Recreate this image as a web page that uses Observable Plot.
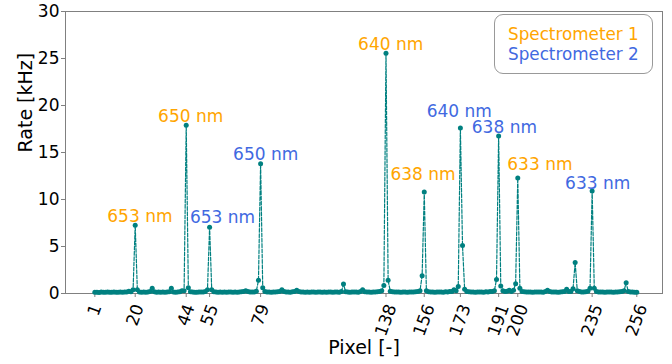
<!DOCTYPE html>
<html>
<head>
<meta charset="utf-8">
<script src="https://cdn.jsdelivr.net/npm/d3@7"></script>
<script src="https://cdn.jsdelivr.net/npm/@observablehq/plot@0.6"></script>
<style>
  html, body { margin: 0; padding: 0; background: white; }
  #wrap { position: relative; width: 672px; height: 364px; font-family: "DejaVu Sans", sans-serif; }
  #legend {
    position: absolute; left: 494px; top: 14px; width: 157px; height: 58px;
    border: 1px solid #999; border-radius: 9px; background: white;
    font-size: 16.8px; line-height: 20px; box-sizing: content-box;
  }
  #legend div { position: absolute; left: 13px; white-space: nowrap; }
</style>
</head>
<body>
<div id="wrap">
  <div id="legend">
    <div id="l1" style="top:9px;color:#FFA500">Spectrometer 1</div>
    <div id="l2" style="top:29px;color:#4169E1">Spectrometer 2</div>
  </div>
</div>
<script>
const rates = [
  0.12,0.14,0.11,0.15,0.13,0.12,0.16,0.14,0.13,0.15,0.12,0.14,0.17,0.13,0.15,0.16,
  0.25,0.18,0.4,7.25,0.4,0.17,0.14,0.15,0.13,0.16,0.2,0.57,0.18,0.14,0.15,0.13,
  0.16,0.14,0.15,0.19,0.57,0.17,0.14,0.16,0.18,0.3,0.3,17.9,0.6,0.18,0.15,0.14,
  0.13,0.16,0.15,0.17,0.2,0.4,7.05,0.4,0.18,0.15,0.14,0.16,0.13,0.15,0.14,0.17,
  0.15,0.13,0.16,0.14,0.15,0.18,0.2,0.3,0.22,0.16,0.15,0.17,0.25,1.4,13.8,0.6,
  0.2,0.16,0.15,0.14,0.17,0.15,0.18,0.22,0.4,0.2,0.16,0.15,0.14,0.18,0.22,0.35,
  0.2,0.16,0.15,0.14,0.16,0.13,0.15,0.17,0.14,0.16,0.15,0.13,0.16,0.14,0.17,0.15,
  0.14,0.16,0.15,0.13,0.2,1.0,0.18,0.15,0.14,0.16,0.15,0.17,0.14,0.2,0.4,0.18,
  0.15,0.16,0.14,0.17,0.15,0.18,0.2,0.3,0.85,25.55,1.4,0.25,0.18,0.16,0.15,0.17,
  0.14,0.16,0.15,0.13,0.16,0.15,0.17,0.18,0.2,0.3,1.9,10.8,0.3,0.18,0.16,0.15,
  0.14,0.17,0.15,0.16,0.14,0.18,0.15,0.2,0.22,0.4,0.3,0.75,17.6,5.1,0.45,0.22,
  0.18,0.16,0.15,0.14,0.17,0.15,0.16,0.14,0.18,0.17,0.2,0.22,0.3,1.5,16.75,0.8,
  0.3,0.2,0.25,0.35,0.2,0.35,1.05,12.3,0.55,0.22,0.18,0.16,0.15,0.17,0.14,0.16,
  0.15,0.17,0.16,0.14,0.2,0.35,0.2,0.16,0.15,0.17,0.14,0.16,0.18,0.2,0.45,0.2,
  0.22,0.5,3.3,0.3,0.2,0.17,0.16,0.18,0.25,0.55,10.9,0.55,0.2,0.16,0.15,0.17,
  0.14,0.16,0.15,0.17,0.14,0.16,0.15,0.18,0.2,0.3,1.15,0.2,0.16,0.15,0.14,0.13
];
const pixels = rates.map((_, i) => i + 1);

const xTicks = [1, 20, 44, 55, 79, 138, 156, 173, 191, 200, 235, 256];
const yTicks = [0, 5, 10, 15, 20, 25, 30];

const labelText = ["653 nm","650 nm","653 nm","650 nm","640 nm","638 nm","640 nm","638 nm","633 nm","633 nm"];
const labelSpectrometer = [1, 1, 2, 2, 1, 1, 2, 2, 1, 2];
const labelPixel = [22.2, 46.1, 61.1, 81.4, 140.2, 155.4, 172.5, 193.7, 210.4, 237.6];
const labelRate = [7.6, 18.26, 7.5, 14.18, 25.9, 12.05, 18.76, 17.06, 13.1, 11.1];

const series = pixels.map((p, i) => ({pixel: p, rate: rates[i]}));
const labels = labelText.map((t, i) => ({text: t, pixel: labelPixel[i], rate: labelRate[i], spec: labelSpectrometer[i]}));
const specColor = {1: "#FFA500", 2: "#4169E1"};

const teal = "#008080";
const sin = Math.sin(70 * Math.PI / 180), cos = Math.cos(70 * Math.PI / 180);
const fs = 17;
const halfH = n => (n * 0.636 * fs * sin + 1.164 * fs * cos) / 2;

const tickLabelMarks = [1, 2, 3].map(n =>
  Plot.text(xTicks.filter(t => String(t).length === n), {
    x: d => d, frameAnchor: "bottom", text: d => String(d),
    rotate: -70, textAnchor: "middle", lineAnchor: "middle",
    dy: 8 + halfH(n), fontSize: fs, fill: "black"
  })
);

const chart = Plot.plot({
  width: 672, height: 364,
  marginLeft: 65, marginRight: 10, marginTop: 11, marginBottom: 71,
  style: {fontFamily: "DejaVu Sans", background: "white", overflow: "visible"},
  x: {domain: [-12.8, 268.1], axis: null},
  y: {domain: [0, 30], axis: null},
  marks: [
    Plot.frame({stroke: "#808080", strokeWidth: 1}),
    Plot.axisY({ticks: yTicks, tickSize: 4, tickPadding: 2, fontSize: fs, label: null, stroke: "#808080", color: "black"}),
    Plot.axisX({ticks: xTicks, tickSize: 4, tickFormat: () => "", label: null, stroke: "#808080"}),
    ...tickLabelMarks,
    Plot.line(series, {x: "pixel", y: "rate", stroke: teal, strokeWidth: 1.2, strokeDasharray: "3.7,1.6"}),
    Plot.dot(series, {x: "pixel", y: "rate", r: 2.5, fill: teal, stroke: "none"}),
    Plot.text(labels, {x: "pixel", y: "rate", text: "text", fill: d => specColor[d.spec], fontSize: 17, textAnchor: "middle", lineAnchor: "bottom"}),
    Plot.text(["Rate [kHz]"], {text: d => d, frameAnchor: "left", dx: -40, rotate: -90, fontSize: 19, fill: "black"}),
    Plot.text(["Pixel [-]"], {text: d => d, frameAnchor: "bottom", dy: 60, fontSize: 19, fill: "black"})
  ]
});
document.getElementById("wrap").prepend(chart);
chart.style.position = "absolute";
chart.style.left = "0";
chart.style.top = "0";
document.getElementById("legend").style.zIndex = 2;
</script>
</body>
</html>
